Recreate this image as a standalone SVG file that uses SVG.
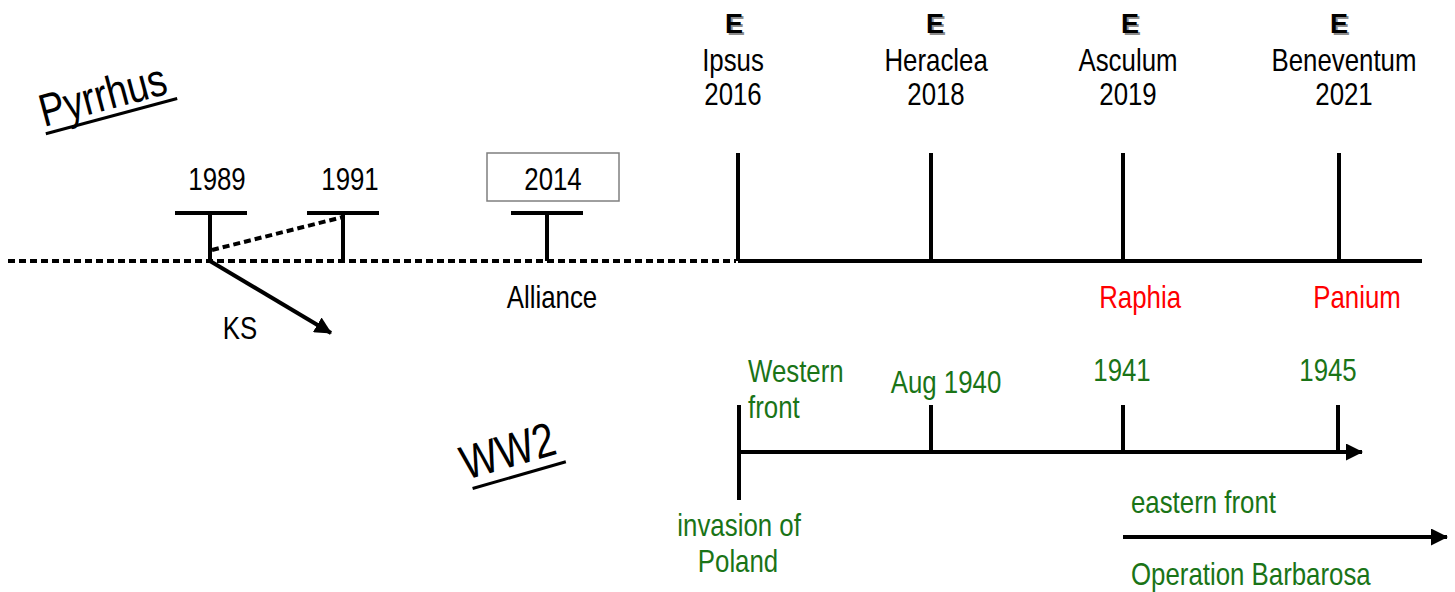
<svg xmlns="http://www.w3.org/2000/svg" width="1455" height="592" viewBox="0 0 1455 592">
  <style>
    text { font-family: "Liberation Sans", Arial, sans-serif; font-size: 31.5px; fill: #000;
           transform: scaleX(0.82); transform-box: fill-box; transform-origin: 50% 50%; }
    .s { transform-origin: 0 50%; }
    .c { text-anchor: middle; }
    .g { fill: #1a7417; }
    .r { fill: #ff0000; }
    .e { font-weight: bold; font-size: 27px; transform: none; }
    .sh { fill: #8c8c8c; }
    .title { font-size: 46px; }
    .ln { stroke: #000; stroke-width: 4; fill: none; }
    .dot { stroke: #000; stroke-width: 4; stroke-dasharray: 7 4; fill: none; }
    .ast line { stroke: #0000ff; stroke-width: 4.2; stroke-linecap: round; }
  </style>
  <defs>
    <marker id="arrow" markerUnits="userSpaceOnUse" markerWidth="17" markerHeight="17" refX="16" refY="8.5" orient="auto">
      <path d="M0,0 L17,8.5 L0,17 Z" fill="#000"/>
    </marker>
    <g id="star">
      <line x1="0" y1="-8" x2="0" y2="8"/>
      <line x1="-8" y1="0" x2="8" y2="0"/>
      <line x1="-5.7" y1="-5.7" x2="5.7" y2="5.7"/>
      <line x1="-5.7" y1="5.7" x2="5.7" y2="-5.7"/>
    </g>
  </defs>

  <!-- section titles -->
  <g id="title-pyrrhus" transform="translate(44,127) rotate(-15)">
    <text class="title s" x="0" y="0">Pyrrhus</text>
    <line x1="0" y1="7" x2="136" y2="7" stroke="#000" stroke-width="3"/>
  </g>
  <g id="title-ww2" transform="translate(466,480) rotate(-16)">
    <text class="title s" x="0" y="0" style="font-size:48px">WW2</text>
    <line x1="4" y1="10" x2="101" y2="10" stroke="#000" stroke-width="3"/>
  </g>

  <!-- connectors: timeline axes -->
  <g id="connectors">
    <line class="dot" x1="8" y1="261" x2="736" y2="261"/>
    <line class="ln" x1="738" y1="261" x2="1422" y2="261"/>
    <line class="dot" x1="212" y1="250" x2="343" y2="217"/>
    <line class="ln" x1="210" y1="261" x2="331" y2="333" marker-end="url(#arrow)"/>
    <line class="ln" x1="739" y1="452" x2="1362" y2="452" marker-end="url(#arrow)"/>
    <line class="ln" x1="1123" y1="537" x2="1447" y2="537" marker-end="url(#arrow)"/>
  </g>

  <!-- early markers -->
  <g id="m1989">
    <line class="ln" x1="175" y1="213" x2="247" y2="213"/>
    <line class="ln" x1="210" y1="213" x2="210" y2="261"/>
    <text class="c" x="217" y="190">1989</text>
  </g>
  <g id="m1991">
    <line class="ln" x1="307" y1="213" x2="379" y2="213"/>
    <line class="ln" x1="343" y1="213" x2="343" y2="261"/>
    <text class="c" x="350" y="190">1991</text>
  </g>
  <g id="ks">
    <text class="c" x="240" y="339">KS</text>
  </g>
  <g id="m2014">
    <rect x="487" y="153" width="132" height="48" fill="none" stroke="#7f7f7f" stroke-width="1.5"/>
    <text class="c" x="553" y="190">2014</text>
    <line class="ln" x1="511" y1="213" x2="583" y2="213"/>
    <line class="ln" x1="547" y1="213" x2="547" y2="261"/>
    <text class="c" x="552" y="308">Alliance</text>
  </g>

  <!-- battles -->
  <g id="ipsus">
    <text class="e c sh" x="736" y="35">E</text>
    <text class="e c" x="734" y="33">E</text>
    <text class="c" x="733" y="71">Ipsus</text>
    <text class="c" x="733" y="105">2016</text>
    <line class="ln" x1="738" y1="153" x2="738" y2="261"/>
  </g>
  <g id="heraclea">
    <text class="e c sh" x="937" y="35">E</text>
    <text class="e c" x="935" y="33">E</text>
    <text class="c" x="936" y="71">Heraclea</text>
    <text class="c" x="936" y="105">2018</text>
    <line class="ln" x1="931" y1="153" x2="931" y2="261"/>
    <use href="#star" class="ast" x="952" y="193"/>
  </g>
  <g id="asculum">
    <text class="e c sh" x="1132" y="35">E</text>
    <text class="e c" x="1130" y="33">E</text>
    <text class="c" x="1128" y="71">Asculum</text>
    <text class="c" x="1128" y="105">2019</text>
    <line class="ln" x1="1123" y1="153" x2="1123" y2="261"/>
    <use href="#star" class="ast" x="1142" y="193"/>
    <text class="c r" x="1140" y="308">Raphia</text>
  </g>
  <g id="beneventum">
    <text class="e c sh" x="1341" y="35">E</text>
    <text class="e c" x="1339" y="33">E</text>
    <text class="c" x="1344" y="71">Beneventum</text>
    <text class="c" x="1344" y="105">2021</text>
    <line class="ln" x1="1339" y1="153" x2="1339" y2="261"/>
    <use href="#star" class="ast" x="1359" y="193"/>
    <text class="c r" x="1357" y="308">Panium</text>
  </g>

  <!-- WW2 timeline -->
  <g id="poland">
    <line class="ln" x1="739" y1="405" x2="739" y2="500"/>
    <text class="g s" x="748" y="382">Western</text>
    <text class="g s" x="748" y="418">front</text>
    <text class="c g" x="739" y="536">invasion of</text>
    <text class="c g" x="738" y="572">Poland</text>
  </g>
  <g id="aug1940">
    <line class="ln" x1="931" y1="405" x2="931" y2="452"/>
    <text class="c g" x="946" y="393">Aug 1940</text>
  </g>
  <g id="y1941">
    <line class="ln" x1="1123" y1="405" x2="1123" y2="452"/>
    <text class="c g" x="1122" y="381">1941</text>
  </g>
  <g id="y1945">
    <line class="ln" x1="1338" y1="405" x2="1338" y2="452"/>
    <text class="c g" x="1328" y="381">1945</text>
  </g>
  <g id="eastern">
    <text class="g s" x="1131" y="513">eastern front</text>
    <text class="g s" x="1131" y="585">Operation Barbarosa</text>
  </g>
</svg>
